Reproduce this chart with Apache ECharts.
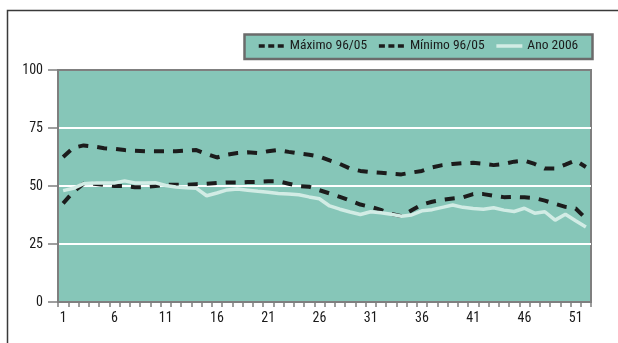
<!DOCTYPE html>
<html>
<head>
<meta charset="utf-8">
<script src="https://cdn.jsdelivr.net/npm/echarts@6/dist/echarts.min.js"></script>
<style>
  html, body { margin: 0; padding: 0; background: #ffffff; }
  #chart { width: 618px; height: 343px; }
</style>
</head>
<body>
<div id="chart"></div>
<script>
// Semanas do ano (1 a 52)
const weeks = Array.from({ length: 52 }, (_, i) => String(i + 1));

// Máximo do período 1996/2005
const maxValues = [
  62.5, 66.5, 67.5, 67, 66.3, 66, 65.5, 65.2, 65, 65,
  65, 65, 65.3, 65.5, 63.8, 62.3, 63.5, 64.2, 64.5, 64.2,
  65, 65.5, 64.7, 64, 63.5, 62.7, 61, 59.5, 57.5, 56.5,
  56, 55.7, 55.3, 55, 55.8, 56.5, 58, 59, 59.5, 59.8,
  60, 59.6, 59, 59.5, 60.5, 61, 59.5, 57.5, 57.5, 59.2,
  61, 58.2
];

// Mínimo do período 1996/2005
const minValues = [
  42.5, 47.5, 51, 51, 50.5, 50, 50, 49.5, 49.5, 50,
  50.5, 50.5, 50.5, 50.8, 51, 51.3, 51.5, 51.5, 51.7, 51.8,
  52, 52, 51, 50, 49.7, 48.2, 46.8, 45.3, 43.7, 42,
  41, 39.7, 38, 37, 39.5, 42, 43.2, 44, 44.6, 45.1,
  46.5, 46.5, 45.8, 45.2, 45.3, 45.1, 44.8, 43.7, 42.3, 41,
  40.3, 36
];

// Ano 2006
const values2006 = [
  48, 49, 51, 51.3, 51.3, 51.3, 52.2, 51.3, 51.3, 51.4,
  50.2, 49.6, 49.2, 49, 45.8, 47, 48.3, 48.7, 48.2, 47.7,
  47.3, 46.8, 46.5, 46.2, 45.3, 44.5, 41.4, 40, 38.8, 37.7,
  38.9, 38.5, 37.8, 37, 37.5, 39.3, 39.8, 40.8, 41.8, 40.8,
  40.3, 40, 40.6, 39.6, 39, 40.4, 38.3, 38.9, 35.3, 37.8,
  35, 32.3
];

const seriesNames = ['Máximo 96/05', 'Mínimo 96/05', 'Ano 2006'];

const TEAL = '#86c6b8';
const AXIS_GREY = '#7f7f7f';
const DASH_COLOR = '#1c1c1c';
const LIGHT_LINE = '#d2ece5';
const FONT = "'Liberation Sans Narrow', 'Roboto Condensed', 'Liberation Sans', sans-serif";

// legend keys: line only, no marker
const hiddenMarker = { opacity: 0 };

const chart = echarts.init(document.getElementById('chart'), null, { renderer: 'canvas' });

chart.setOption({
  animation: false,
  backgroundColor: '#ffffff',
  textStyle: { fontFamily: FONT },
  graphic: [
    {
      type: 'polyline',
      silent: true,
      shape: { points: [[7.5, 343], [7.5, 10.5], [618, 10.5]] },
      style: { stroke: '#3a3a3a', lineWidth: 1.5, fill: null }
    },
    {
      type: 'rect',
      silent: true,
      z: -1,
      shape: { x: 244.5, y: 34.5, width: 348, height: 24.5 },
      style: { fill: TEAL, stroke: '#6b6b6b', lineWidth: 2.5 }
    }
  ],
  legend: {
    left: 257,
    top: 39,
    itemWidth: 26,
    itemHeight: 14,
    itemGap: 10,
    padding: 0,
    z: 10,
    textStyle: { fontFamily: FONT, fontSize: 13.5, color: '#1a1a1a' },
    data: [
      { name: seriesNames[0], itemStyle: hiddenMarker, lineStyle: { type: [6, 3.5], width: 3.5, color: DASH_COLOR, cap: 'butt' } },
      { name: seriesNames[1], itemStyle: hiddenMarker, lineStyle: { type: [6, 3.5], width: 3.5, color: DASH_COLOR, cap: 'butt' } },
      { name: seriesNames[2], itemStyle: hiddenMarker, lineStyle: { type: 'solid', width: 3.5, color: LIGHT_LINE } }
    ]
  },
  grid: {
    left: 58,
    right: 27,
    top: 70,
    bottom: 41,
    show: true,
    backgroundColor: TEAL,
    borderColor: AXIS_GREY,
    borderWidth: 2
  },
  xAxis: {
    type: 'category',
    data: weeks,
    boundaryGap: true,
    axisLine: { show: true, lineStyle: { color: AXIS_GREY, width: 2 } },
    axisTick: { show: true, interval: 0, length: 5, lineStyle: { color: AXIS_GREY, width: 1.5 } },
    axisLabel: { interval: 4, fontSize: 14, color: '#1a1a1a', margin: 9, fontFamily: FONT },
    splitLine: { show: false }
  },
  yAxis: {
    type: 'value',
    min: 0,
    max: 100,
    interval: 25,
    axisLine: { show: true, lineStyle: { color: AXIS_GREY, width: 2 } },
    axisTick: { show: true, length: 10, lineStyle: { color: AXIS_GREY, width: 1.5 } },
    axisLabel: { fontSize: 14, color: '#1a1a1a', margin: 15, fontFamily: FONT },
    splitLine: { show: true, showMinLine: false, showMaxLine: false, lineStyle: { color: '#ffffff', width: 2 } }
  },
  series: [
    {
      name: seriesNames[0],
      type: 'line',
      data: maxValues,
      symbol: 'none',
      z: 3,
      lineStyle: { color: DASH_COLOR, width: 4, type: [10, 9], cap: 'butt' },
      itemStyle: { color: DASH_COLOR }
    },
    {
      name: seriesNames[1],
      type: 'line',
      data: minValues,
      symbol: 'none',
      z: 3,
      lineStyle: { color: DASH_COLOR, width: 4, type: [10, 9], cap: 'butt' },
      itemStyle: { color: DASH_COLOR }
    },
    {
      name: seriesNames[2],
      type: 'line',
      data: values2006,
      symbol: 'none',
      z: 4,
      lineStyle: { color: LIGHT_LINE, width: 3.5, type: 'solid' },
      itemStyle: { color: LIGHT_LINE }
    }
  ]
});
</script>
</body>
</html>
